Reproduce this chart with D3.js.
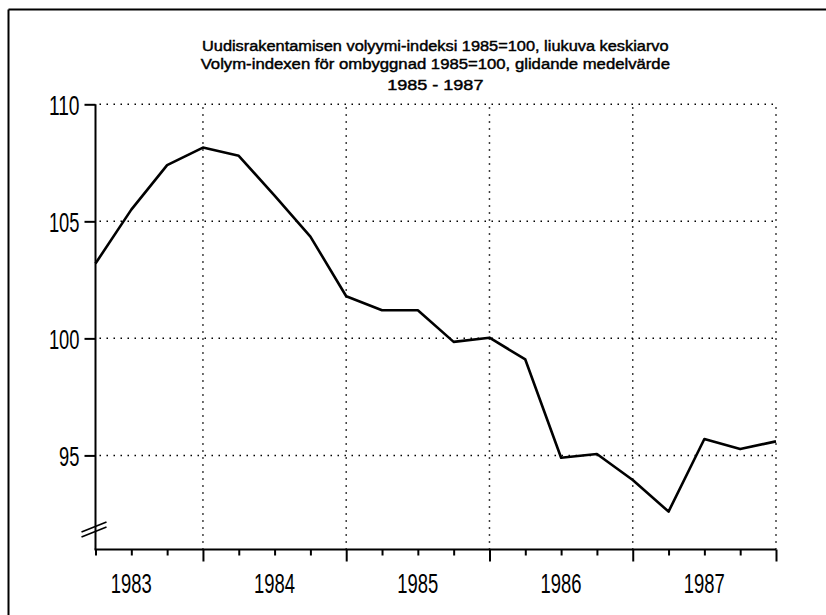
<!DOCTYPE html>
<html>
<head>
<meta charset="utf-8">
<script src="https://cdn.jsdelivr.net/npm/d3@7"></script>
<style>
html,body{margin:0;padding:0;background:#fff;}
svg{display:block;}
</style>
</head>
<body>
<svg id="chart" width="826" height="615"></svg>
<script>
// ---- data ----
const titleLines = [
  "Uudisrakentamisen volyymi-indeksi 1985=100, liukuva keskiarvo",
  "Volym-indexen för ombyggnad 1985=100, glidande medelvärde",
  "1985 - 1987"
];
const periods = d3.range(20); // quarterly points
const values = [103.2, 105.5, 107.4, 108.15, 107.8, 106.1, 104.35, 101.8, 101.2, 101.2,
                99.85, 100.03, 99.1, 94.9, 95.06, 93.95, 92.6, 95.7, 95.27, 95.6];
const yTicks = [95, 100, 105, 110];
const yearLabels = ["1983", "1984", "1985", "1986", "1987"];
const yearLabelIndex = [1, 5, 9, 13, 17];
const gridIndex = [3, 7, 11, 15, 19];

(function () {
// ---- layout ----
const svg = d3.select("#chart");
const pLeft = 95.5, pRight = 776, pTop = 104.3, pBottom = 549.5;
const font = "'Liberation Sans','Arimo',Arial,sans-serif";

const x = d3.scaleLinear().domain([0, 19]).range([pLeft, pRight]);
const y = d3.scaleLinear().domain([90.98, 110]).range([pBottom, pTop]);

// outer frame (left + top only visible)
svg.append("line").attr("x1", 8.5).attr("x2", 8.5).attr("y1", 9.5).attr("y2", 615)
  .attr("stroke", "#000").attr("stroke-width", 2);
svg.append("line").attr("x1", 8.5).attr("x2", 826).attr("y1", 9.5).attr("y2", 9.5)
  .attr("stroke", "#000").attr("stroke-width", 2);

// title
const titleY = [51, 68.5, 90];
const titleW = [466.6, 469.3, 96.3];
titleLines.forEach((t, i) => {
  svg.append("text")
    .attr("x", 435.3).attr("y", titleY[i])
    .attr("text-anchor", "middle")
    .attr("font-family", font).attr("font-size", 15.5)
    .attr("textLength", titleW[i]).attr("lengthAdjust", "spacingAndGlyphs")
    .attr("fill", "#000").attr("stroke", "#000").attr("stroke-width", 0.45)
    .text(t);
});

// gridlines
const grid = svg.append("g").attr("stroke", "#000").attr("stroke-width", 1.5)
  .attr("stroke-dasharray", "1.5,5.5").attr("fill", "none");
yTicks.forEach(v => {
  grid.append("line").attr("x1", pLeft + 4).attr("x2", pRight).attr("y1", y(v)).attr("y2", y(v));
});
gridIndex.forEach(i => {
  grid.append("line").attr("x1", x(i)).attr("x2", x(i)).attr("y1", pTop + 3).attr("y2", pBottom);
});

// y axis
const yAxis = d3.axisLeft(y).tickValues(yTicks).tickSize(11).tickPadding(5)
  .tickFormat(d3.format("d"));
const gy = svg.append("g").attr("transform", `translate(${pLeft},0)`).call(yAxis);
gy.select(".domain").remove();
gy.selectAll(".tick line").attr("stroke", "#000").attr("stroke-width", 2);
gy.selectAll(".tick text")
  .attr("font-family", font).attr("font-size", 27).attr("fill", "#000")
  .attr("dy", "0.36em")
  .attr("textLength", d => String(d).length * 10.2)
  .attr("lengthAdjust", "spacingAndGlyphs");
svg.append("line").attr("x1", pLeft).attr("x2", pLeft).attr("y1", pTop).attr("y2", pBottom)
  .attr("stroke", "#000").attr("stroke-width", 2);

// axis break marks
const by = 527;
[0, 5].forEach(off => {
  svg.append("line")
    .attr("x1", pLeft - 14).attr("y1", by + off + 5)
    .attr("x2", pLeft + 11).attr("y2", by + off - 5)
    .attr("stroke", "#000").attr("stroke-width", 1.6);
});

// x axis
const xAxis = d3.axisBottom(x).tickValues(periods).tickFormat("")
  .tickSize(6).tickSizeOuter(0);
const gx = svg.append("g").attr("transform", `translate(0,${pBottom})`).call(xAxis);
gx.select(".domain").attr("stroke", "#000").attr("stroke-width", 2)
  .attr("d", `M${pLeft - 1},0H${pRight}`);
gx.selectAll(".tick line").attr("stroke", "#000").attr("stroke-width", 2)
  .attr("y2", d => gridIndex.includes(d) ? 12 : 6);

// year labels
svg.append("g").selectAll("text").data(yearLabels).join("text")
  .attr("x", (d, i) => x(yearLabelIndex[i]))
  .attr("y", 593)
  .attr("text-anchor", "middle")
  .attr("font-family", font).attr("font-size", 27).attr("fill", "#000")
  .attr("textLength", 41).attr("lengthAdjust", "spacingAndGlyphs")
  .text(d => d);

// data line
const line = d3.line().x((d, i) => x(periods[i])).y(d => y(d));
svg.append("path").datum(values)
  .attr("d", line)
  .attr("fill", "none").attr("stroke", "#000").attr("stroke-width", 2.6)
  .attr("stroke-linejoin", "round");
})();
</script>
</body>
</html>
